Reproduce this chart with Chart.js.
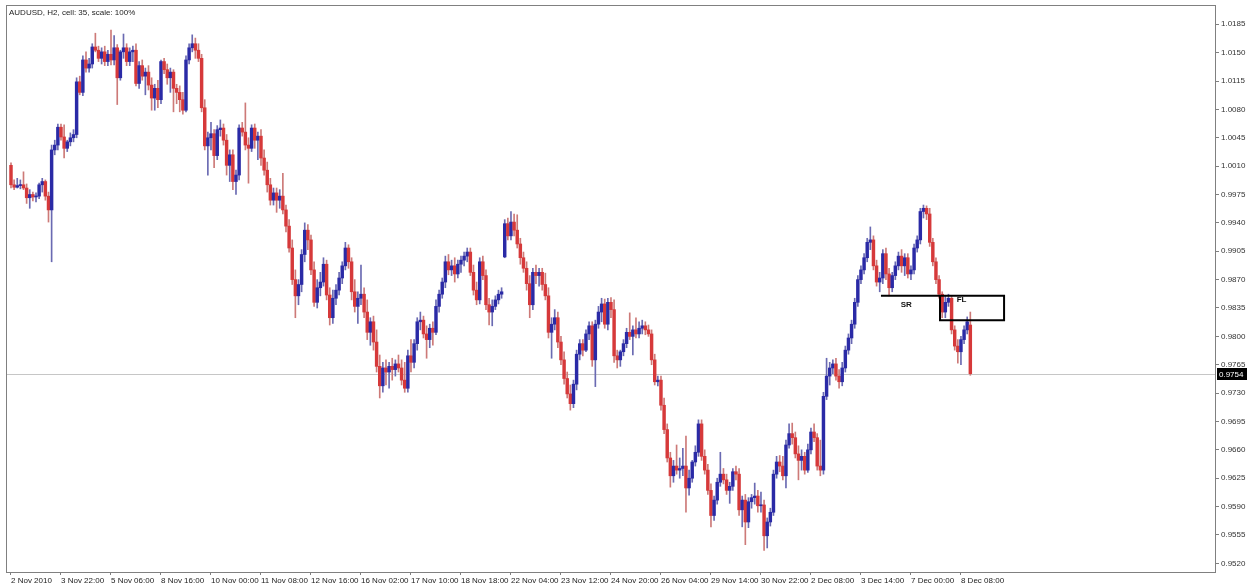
<!DOCTYPE html>
<html>
<head>
<meta charset="utf-8">
<title>AUDUSD H2</title>
<script src="https://cdn.jsdelivr.net/npm/chart.js@4.4.0/dist/chart.umd.min.js"></script>
<style>
  html, body { margin: 0; padding: 0; background: #fff; }
  #wrap { width: 1253px; height: 585px; position: relative; }
</style>
</head>
<body>
<div id="wrap"><canvas id="chart"></canvas></div>
<script>
// AUDUSD, H2 candles, 2 Nov - 8 Dec 2010
const dateTicks = ['2 Nov 2010', '3 Nov 22:00', '5 Nov 06:00', '8 Nov 16:00', '10 Nov 00:00',
    '11 Nov 08:00', '12 Nov 16:00', '16 Nov 02:00', '17 Nov 10:00', '18 Nov 18:00',
    '22 Nov 04:00', '23 Nov 12:00', '24 Nov 20:00', '26 Nov 04:00', '29 Nov 14:00',
    '30 Nov 22:00', '2 Dec 08:00', '3 Dec 14:00', '7 Dec 00:00', '8 Dec 08:00'];
const barsPerTick = 16;

const priceTicks = [1.0185, 1.0150, 1.0115, 1.0080, 1.0045, 1.0010, 0.9975, 0.9940, 0.9905, 0.9870,
    0.9835, 0.9800, 0.9765, 0.9730, 0.9695, 0.9660, 0.9625, 0.9590, 0.9555, 0.9520];

const opens = [
    1.0011, 0.9987, 0.9984, 0.9986, 0.9987, 0.9983, 0.9971, 0.9975,
    0.9972, 0.9973, 0.9987, 0.9991, 0.9973, 0.9956, 1.0030, 1.0036,
    1.0058, 1.0046, 1.0032, 1.0040, 1.0045, 1.0049, 1.0114, 1.0101,
    1.0141, 1.0131, 1.0136, 1.0157, 1.0153, 1.0143, 1.0151, 1.0139,
    1.0148, 1.0141, 1.0156, 1.0119, 1.0151, 1.0156, 1.0139, 1.0151,
    1.0153, 1.0112, 1.0134, 1.0121, 1.0126, 1.0110, 1.0094, 1.0106,
    1.0092, 1.0139, 1.0129, 1.0119, 1.0126, 1.0106, 1.0101, 1.0092,
    1.0079, 1.0141, 1.0156, 1.0161, 1.0153, 1.0143, 1.0082, 1.0035,
    1.0045, 1.0050, 1.0023, 1.0055, 1.0057, 1.0042, 1.0011, 1.0024,
    0.9991, 0.9999, 1.0057, 1.0052, 1.0036, 1.0032, 1.0057, 1.0042,
    1.0047, 1.0020, 1.0005, 0.9987, 0.9968, 0.9977, 0.9968, 0.9973,
    0.9956, 0.9936, 0.9909, 0.9870, 0.9850, 0.9864, 0.9901, 0.9931,
    0.9919, 0.9882, 0.9842, 0.9860, 0.9867, 0.9889, 0.9851, 0.9823,
    0.9847, 0.9857, 0.9872, 0.9887, 0.9909, 0.9892, 0.9855, 0.9837,
    0.9847, 0.9852, 0.9830, 0.9805, 0.9818, 0.9793, 0.9763, 0.9739,
    0.9761, 0.9756, 0.9763, 0.9759, 0.9766, 0.9761, 0.9746, 0.9736,
    0.9776, 0.9768, 0.9791, 0.9818, 0.9820, 0.9803, 0.9796, 0.9810,
    0.9805, 0.9837, 0.9852, 0.9867, 0.9892, 0.9882, 0.9887, 0.9877,
    0.9889, 0.9894, 0.9899, 0.9904, 0.9879, 0.9857, 0.9845, 0.9892,
    0.9875, 0.9839, 0.9830, 0.9837, 0.9845, 0.9852, 0.9898, 0.9939,
    0.9924, 0.9941, 0.9931, 0.9914, 0.9897, 0.9884, 0.9865, 0.9839,
    0.9879, 0.9875, 0.9879, 0.9864, 0.9850, 0.9805, 0.9815, 0.9823,
    0.9793, 0.9771, 0.9748, 0.9729, 0.9717, 0.9741, 0.9778, 0.9791,
    0.9783, 0.9803, 0.9813, 0.9771, 0.9815, 0.9830, 0.9840, 0.9815,
    0.9842, 0.9833, 0.9776, 0.9771, 0.9781, 0.9791, 0.9805, 0.9800,
    0.9808, 0.9803, 0.9810, 0.9813, 0.9808, 0.9803, 0.9771, 0.9744,
    0.9746, 0.9715, 0.9685, 0.9650, 0.9628, 0.9640, 0.9635, 0.9637,
    0.9640, 0.9613, 0.9625, 0.9645, 0.9657, 0.9692, 0.9652, 0.9635,
    0.9610, 0.9579, 0.9598, 0.9620, 0.9630, 0.9623, 0.9610, 0.9615,
    0.9633, 0.9630, 0.9586, 0.9598, 0.9571, 0.9596, 0.9601, 0.9603,
    0.9591, 0.9592, 0.9554, 0.9571, 0.9583, 0.9630, 0.9645, 0.9640,
    0.9628, 0.9666, 0.9680, 0.9675, 0.9655, 0.9647, 0.9652, 0.9635,
    0.9660, 0.9682, 0.9675, 0.9640, 0.9635, 0.9726, 0.9751, 0.9761,
    0.9766, 0.9751, 0.9744, 0.9761, 0.9783, 0.9798, 0.9815, 0.9842,
    0.9870, 0.9882, 0.9897, 0.9916, 0.9919, 0.9887, 0.9867, 0.9872,
    0.9902, 0.9877, 0.9860, 0.9875, 0.9887, 0.9899, 0.9887, 0.9897,
    0.9877, 0.9882, 0.9909, 0.9919, 0.9954, 0.9958, 0.9951, 0.9916,
    0.9892, 0.9870, 0.9852, 0.9830, 0.9842, 0.9847, 0.9808, 0.9788,
    0.9781, 0.9796, 0.9808, 0.9814
];

const highs = [
    1.0014, 0.9993, 0.9995, 0.9993, 1.0003, 0.9988, 0.9981, 0.9978,
    0.9977, 0.9989, 0.9995, 0.9993, 0.9978, 1.0036, 1.0042, 1.0062,
    1.0062, 1.0061, 1.0042, 1.0051, 1.0055, 1.0119, 1.0121, 1.0146,
    1.0151, 1.0143, 1.0161, 1.0174, 1.0158, 1.0156, 1.0158, 1.0153,
    1.0178, 1.0171, 1.0160, 1.0153, 1.0173, 1.0161, 1.0156, 1.0158,
    1.0161, 1.0139, 1.0141, 1.0131, 1.0134, 1.0119, 1.0111, 1.0116,
    1.0141, 1.0143, 1.0136, 1.0131, 1.0129, 1.0111, 1.0109, 1.0101,
    1.0146, 1.0161, 1.0172, 1.0168, 1.0161, 1.0148, 1.0092, 1.0052,
    1.0064, 1.0055, 1.0060, 1.0067, 1.0062, 1.0049, 1.0030, 1.0030,
    1.0005, 1.0061, 1.0064, 1.0088, 1.0045, 1.0061, 1.0062, 1.0052,
    1.0055, 1.0030, 1.0015, 0.9995, 0.9983, 0.9983, 0.9981, 1.0001,
    0.9962, 0.9944, 0.9919, 0.9882, 0.9870, 0.9907, 0.9940, 0.9938,
    0.9925, 0.9892, 0.9870, 0.9879, 0.9897, 0.9894, 0.9860, 0.9857,
    0.9864, 0.9879, 0.9892, 0.9916, 0.9913, 0.9897, 0.9870, 0.9855,
    0.9888, 0.9860, 0.9845, 0.9823, 0.9825, 0.9808, 0.9777, 0.9768,
    0.9771, 0.9768, 0.9773, 0.9771, 0.9777, 0.9771, 0.9768, 0.9783,
    0.9796, 0.9796, 0.9823, 0.9830, 0.9825, 0.9813, 0.9815, 0.9818,
    0.9845, 0.9857, 0.9872, 0.9899, 0.9901, 0.9894, 0.9897, 0.9894,
    0.9899, 0.9904, 0.9909, 0.9909, 0.9888, 0.9867, 0.9897, 0.9899,
    0.9882, 0.9847, 0.9845, 0.9850, 0.9857, 0.9860, 0.9944, 0.9946,
    0.9954, 0.9951, 0.9950, 0.9921, 0.9904, 0.9892, 0.9875, 0.9884,
    0.9888, 0.9884, 0.9884, 0.9878, 0.9860, 0.9823, 0.9833, 0.9830,
    0.9800, 0.9781, 0.9756, 0.9740, 0.9746, 0.9783, 0.9796, 0.9796,
    0.9808, 0.9818, 0.9818, 0.9820, 0.9837, 0.9847, 0.9846, 0.9847,
    0.9848, 0.9845, 0.9783, 0.9783, 0.9796, 0.9810, 0.9829, 0.9813,
    0.9823, 0.9818, 0.9820, 0.9818, 0.9814, 0.9808, 0.9778, 0.9751,
    0.9751, 0.9724, 0.9692, 0.9657, 0.9647, 0.9666, 0.9650, 0.9662,
    0.9677, 0.9635, 0.9647, 0.9665, 0.9697, 0.9697, 0.9660, 0.9642,
    0.9618, 0.9603, 0.9625, 0.9657, 0.9637, 0.9630, 0.9620, 0.9637,
    0.9640, 0.9637, 0.9603, 0.9605, 0.9601, 0.9605, 0.9619, 0.9610,
    0.9608, 0.9598, 0.9576, 0.9588, 0.9635, 0.9652, 0.9653, 0.9652,
    0.9672, 0.9692, 0.9693, 0.9682, 0.9665, 0.9660, 0.9657, 0.9667,
    0.9687, 0.9692, 0.9680, 0.9672, 0.9731, 0.9773, 0.9768, 0.9771,
    0.9773, 0.9759, 0.9768, 0.9788, 0.9803, 0.9820, 0.9847, 0.9875,
    0.9887, 0.9902, 0.9921, 0.9935, 0.9924, 0.9894, 0.9879, 0.9907,
    0.9909, 0.9884, 0.9879, 0.9892, 0.9904, 0.9907, 0.9902, 0.9902,
    0.9887, 0.9914, 0.9924, 0.9958, 0.9962, 0.9961, 0.9958, 0.9921,
    0.9897, 0.9875, 0.9855, 0.9850, 0.9852, 0.9850, 0.9813, 0.9796,
    0.9800, 0.9813, 0.9824, 0.9830
];

const lows = [
    0.9983, 0.9981, 0.9983, 0.9982, 0.9981, 0.9964, 0.9958, 0.9967,
    0.9966, 0.9970, 0.9978, 0.9968, 0.9941, 0.9892, 1.0024, 1.0030,
    1.0042, 1.0020, 1.0028, 1.0035, 1.0040, 1.0045, 1.0098, 1.0097,
    1.0126, 1.0126, 1.0131, 1.0151, 1.0139, 1.0136, 1.0134, 1.0134,
    1.0135, 1.0135, 1.0086, 1.0116, 1.0143, 1.0134, 1.0134, 1.0139,
    1.0109, 1.0106, 1.0116, 1.0098, 1.0104, 1.0079, 1.0079, 1.0082,
    1.0087, 1.0124, 1.0111, 1.0101, 1.0077, 1.0087, 1.0077, 1.0074,
    1.0077, 1.0136, 1.0151, 1.0143, 1.0139, 1.0077, 1.0030, 0.9999,
    1.0030, 1.0008, 1.0018, 1.0047, 1.0036, 0.9999, 0.9991, 0.9981,
    0.9975, 0.9993, 1.0047, 1.0030, 0.9989, 1.0028, 1.0032, 1.0018,
    1.0011, 0.9999, 0.9978, 0.9962, 0.9962, 0.9953, 0.9958, 0.9951,
    0.9929, 0.9904, 0.9864, 0.9823, 0.9839, 0.9855, 0.9892, 0.9907,
    0.9876, 0.9837, 0.9835, 0.9850, 0.9862, 0.9845, 0.9814, 0.9816,
    0.9839, 0.9851, 0.9865, 0.9882, 0.9884, 0.9845, 0.9830, 0.9816,
    0.9839, 0.9823, 0.9796, 0.9789, 0.9783, 0.9756, 0.9724, 0.9731,
    0.9740, 0.9736, 0.9746, 0.9751, 0.9756, 0.9740, 0.9731, 0.9731,
    0.9756, 0.9761, 0.9783, 0.9808, 0.9798, 0.9773, 0.9786, 0.9789,
    0.9802, 0.9830, 0.9847, 0.9860, 0.9876, 0.9875, 0.9867, 0.9872,
    0.9879, 0.9887, 0.9892, 0.9875, 0.9851, 0.9839, 0.9840, 0.9870,
    0.9833, 0.9814, 0.9813, 0.9833, 0.9840, 0.9847, 0.9897, 0.9919,
    0.9919, 0.9924, 0.9909, 0.9889, 0.9879, 0.9857, 0.9823, 0.9833,
    0.9865, 0.9862, 0.9857, 0.9845, 0.9798, 0.9773, 0.9808, 0.9786,
    0.9765, 0.9741, 0.9724, 0.9709, 0.9712, 0.9734, 0.9771, 0.9776,
    0.9781, 0.9796, 0.9763, 0.9738, 0.9810, 0.9818, 0.9810, 0.9808,
    0.9823, 0.9768, 0.9761, 0.9763, 0.9776, 0.9786, 0.9796, 0.9777,
    0.9798, 0.9798, 0.9803, 0.9802, 0.9800, 0.9765, 0.9740, 0.9739,
    0.9709, 0.9680, 0.9645, 0.9614, 0.9620, 0.9630, 0.9625, 0.9628,
    0.9583, 0.9604, 0.9620, 0.9640, 0.9652, 0.9647, 0.9630, 0.9605,
    0.9565, 0.9573, 0.9593, 0.9615, 0.9618, 0.9605, 0.9594, 0.9610,
    0.9623, 0.9579, 0.9565, 0.9543, 0.9564, 0.9588, 0.9593, 0.9583,
    0.9583, 0.9536, 0.9539, 0.9566, 0.9579, 0.9625, 0.9633, 0.9623,
    0.9613, 0.9662, 0.9667, 0.9650, 0.9623, 0.9635, 0.9630, 0.9632,
    0.9655, 0.9670, 0.9635, 0.9628, 0.9630, 0.9722, 0.9740, 0.9754,
    0.9746, 0.9736, 0.9739, 0.9756, 0.9778, 0.9791, 0.9810, 0.9837,
    0.9865, 0.9877, 0.9892, 0.9907, 0.9882, 0.9862, 0.9855, 0.9865,
    0.9870, 0.9850, 0.9855, 0.9870, 0.9882, 0.9879, 0.9875, 0.9872,
    0.9870, 0.9877, 0.9904, 0.9914, 0.9946, 0.9944, 0.9911, 0.9887,
    0.9865, 0.9847, 0.9823, 0.9823, 0.9837, 0.9803, 0.9783, 0.9767,
    0.9765, 0.9791, 0.9803, 0.9752
];

const closes = [
    0.9987, 0.9984, 0.9986, 0.9987, 0.9983, 0.9971, 0.9975, 0.9972,
    0.9973, 0.9987, 0.9991, 0.9973, 0.9956, 1.0030, 1.0036, 1.0058,
    1.0046, 1.0032, 1.0040, 1.0045, 1.0049, 1.0114, 1.0101, 1.0141,
    1.0131, 1.0136, 1.0157, 1.0153, 1.0143, 1.0151, 1.0139, 1.0148,
    1.0141, 1.0156, 1.0119, 1.0151, 1.0156, 1.0139, 1.0151, 1.0153,
    1.0112, 1.0134, 1.0121, 1.0126, 1.0110, 1.0094, 1.0106, 1.0092,
    1.0139, 1.0129, 1.0119, 1.0126, 1.0106, 1.0101, 1.0092, 1.0079,
    1.0141, 1.0156, 1.0161, 1.0153, 1.0143, 1.0082, 1.0035, 1.0045,
    1.0050, 1.0023, 1.0055, 1.0057, 1.0042, 1.0011, 1.0024, 0.9991,
    0.9999, 1.0057, 1.0052, 1.0036, 1.0032, 1.0057, 1.0042, 1.0047,
    1.0020, 1.0005, 0.9987, 0.9968, 0.9977, 0.9968, 0.9973, 0.9956,
    0.9936, 0.9909, 0.9870, 0.9850, 0.9864, 0.9901, 0.9931, 0.9919,
    0.9882, 0.9842, 0.9860, 0.9867, 0.9889, 0.9851, 0.9823, 0.9847,
    0.9857, 0.9872, 0.9887, 0.9909, 0.9892, 0.9855, 0.9837, 0.9847,
    0.9852, 0.9830, 0.9805, 0.9818, 0.9793, 0.9763, 0.9739, 0.9761,
    0.9756, 0.9763, 0.9759, 0.9766, 0.9761, 0.9746, 0.9736, 0.9776,
    0.9768, 0.9791, 0.9818, 0.9820, 0.9803, 0.9796, 0.9810, 0.9805,
    0.9837, 0.9852, 0.9867, 0.9892, 0.9882, 0.9887, 0.9877, 0.9889,
    0.9894, 0.9899, 0.9904, 0.9879, 0.9857, 0.9845, 0.9892, 0.9875,
    0.9839, 0.9830, 0.9837, 0.9845, 0.9852, 0.9855, 0.9939, 0.9924,
    0.9941, 0.9931, 0.9914, 0.9897, 0.9884, 0.9865, 0.9839, 0.9879,
    0.9875, 0.9879, 0.9864, 0.9850, 0.9805, 0.9815, 0.9823, 0.9793,
    0.9771, 0.9748, 0.9729, 0.9717, 0.9741, 0.9778, 0.9791, 0.9783,
    0.9803, 0.9813, 0.9771, 0.9815, 0.9830, 0.9840, 0.9815, 0.9842,
    0.9833, 0.9776, 0.9771, 0.9781, 0.9791, 0.9805, 0.9800, 0.9808,
    0.9803, 0.9810, 0.9813, 0.9808, 0.9803, 0.9771, 0.9744, 0.9746,
    0.9715, 0.9685, 0.9650, 0.9628, 0.9640, 0.9635, 0.9637, 0.9640,
    0.9613, 0.9625, 0.9645, 0.9657, 0.9692, 0.9652, 0.9635, 0.9610,
    0.9579, 0.9598, 0.9620, 0.9630, 0.9623, 0.9610, 0.9615, 0.9633,
    0.9630, 0.9586, 0.9598, 0.9571, 0.9596, 0.9601, 0.9603, 0.9591,
    0.9592, 0.9554, 0.9571, 0.9583, 0.9630, 0.9645, 0.9640, 0.9628,
    0.9666, 0.9680, 0.9675, 0.9655, 0.9647, 0.9652, 0.9635, 0.9660,
    0.9682, 0.9675, 0.9640, 0.9635, 0.9726, 0.9751, 0.9761, 0.9766,
    0.9751, 0.9744, 0.9761, 0.9783, 0.9798, 0.9815, 0.9842, 0.9870,
    0.9882, 0.9897, 0.9916, 0.9919, 0.9887, 0.9867, 0.9872, 0.9902,
    0.9877, 0.9860, 0.9875, 0.9887, 0.9899, 0.9887, 0.9897, 0.9877,
    0.9882, 0.9909, 0.9919, 0.9954, 0.9958, 0.9951, 0.9916, 0.9892,
    0.9870, 0.9852, 0.9830, 0.9842, 0.9847, 0.9808, 0.9788, 0.9781,
    0.9796, 0.9808, 0.9818, 0.9754
];

// hand drawn objects on the chart (bar index / price)
const srLevel = 0.9850;
const srFrom = 278.4;
const flBox = { from: 297.3, to: 317.8, top: 0.9850, bottom: 0.9820 };
const srText = { x: 286.5, y: 0.9839 };
const flText = { x: 304.2, y: 0.9845 };

const FONT = "'Liberation Sans', Arial, sans-serif";
const upBody = '#2a2aa6', downBody = '#d6393a';
const upWick = '#6a6ab2', downWick = '#cd7a78';

const idx = closes.map((_, i) => i);
const isUp = idx.map(i => closes[i] >= opens[i]);

const overlay = {
    id: 'overlay',
    beforeDatasetsDraw(chart) {
        const { ctx, chartArea: a, scales: { y } } = chart;
        ctx.save();
        ctx.strokeStyle = '#808080';
        ctx.lineWidth = 1;
        ctx.strokeRect(a.left + 0.5, a.top + 0.5, a.right - a.left, a.bottom - a.top);
        // bid line
        const by = Math.round(y.getPixelForValue(closes[closes.length - 1])) + 0.5;
        ctx.strokeStyle = '#c6c6c6';
        ctx.beginPath();
        ctx.moveTo(a.left + 1, by);
        ctx.lineTo(a.right, by);
        ctx.stroke();
        ctx.restore();
    },
    afterDraw(chart) {
        const { ctx, chartArea: a, scales: { x, y } } = chart;
        ctx.save();
        ctx.font = '8px ' + FONT;
        ctx.fillStyle = '#222';
        ctx.textBaseline = 'middle';
        ctx.textAlign = 'left';
        ctx.fillText('AUDUSD, H2, cell: 35, scale: 100%', a.left + 3, a.top + 8);

        ctx.font = 'bold 8px ' + FONT;
        ctx.fillStyle = '#111';
        ctx.textAlign = 'center';
        ctx.fillText('SR', x.getPixelForValue(srText.x), y.getPixelForValue(srText.y));
        ctx.fillText('FL', x.getPixelForValue(flText.x), y.getPixelForValue(flText.y));

        // last price marker on the axis
        const last = closes[closes.length - 1];
        const by = Math.round(y.getPixelForValue(last));
        ctx.fillStyle = '#000';
        ctx.fillRect(y.left + 2, by - 6, 30, 12);
        ctx.fillStyle = '#fff';
        ctx.font = '8px ' + FONT;
        ctx.textAlign = 'left';
        ctx.fillText(last.toFixed(4), y.left + 4, by + 0.5);
        ctx.restore();
    }
};

new Chart(document.getElementById('chart'), {
    type: 'bar',
    data: {
        datasets: [{
            type: 'line',
            label: 'FL box',
            order: 0,
            data: [
                { x: flBox.from, y: flBox.top }, { x: flBox.to, y: flBox.top },
                { x: flBox.to, y: flBox.bottom }, { x: flBox.from, y: flBox.bottom },
                { x: flBox.from, y: flBox.top }
            ],
            borderColor: '#000',
            borderWidth: 2,
            pointRadius: 0,
            tension: 0
        }, {
            type: 'line',
            label: 'SR',
            order: 1,
            data: [{ x: srFrom, y: srLevel }, { x: flBox.from, y: srLevel }],
            borderColor: '#000',
            borderWidth: 2,
            pointRadius: 0
        }, {
            label: 'bodies',
            order: 2,
            data: idx.map(i => ({ x: i, y: [opens[i], closes[i]] })),
            backgroundColor: idx.map(i => isUp[i] ? upBody : downBody),
            barThickness: 2.8,
            minBarLength: 1,
            grouped: false,
            borderWidth: 0
        }, {
            label: 'wicks',
            order: 3,
            data: idx.map(i => ({ x: i, y: [lows[i], highs[i]] })),
            backgroundColor: idx.map(i => isUp[i] ? upWick : downWick),
            barThickness: 1,
            grouped: false,
            borderWidth: 0
        }]
    },
    options: {
        responsive: true,
        maintainAspectRatio: false,
        animation: false,
        devicePixelRatio: 1,
        layout: { padding: { left: 6, top: 5, right: 0, bottom: 0 } },
        plugins: { legend: { display: false }, tooltip: { enabled: false } },
        scales: {
            x: {
                type: 'linear',
                position: 'bottom',
                min: -1.6,
                max: 385.3,
                offset: false,
                grid: { drawOnChartArea: false, drawTicks: true, tickLength: 3, color: '#808080', offset: false },
                border: { display: false },
                afterBuildTicks: axis => { axis.ticks = dateTicks.map((_, k) => ({ value: k * barsPerTick })); },
                afterFit: s => { s.height = 13; s.paddingLeft = 0; s.paddingRight = 0; },
                ticks: {
                    autoSkip: false,
                    maxRotation: 0,
                    align: 'start',
                    padding: 1,
                    color: '#222',
                    font: { family: FONT, size: 8 },
                    callback: (v, k) => dateTicks[k]
                }
            },
            y: {
                type: 'linear',
                position: 'right',
                min: 0.95093,
                max: 1.02088,
                grid: { drawOnChartArea: false, drawTicks: true, tickLength: 4, color: '#808080' },
                border: { display: false },
                afterBuildTicks: axis => { axis.ticks = priceTicks.map(v => ({ value: v })); },
                afterFit: s => { s.width = 38; s.paddingTop = 0; s.paddingBottom = 0; },
                ticks: {
                    padding: 2,
                    color: '#333',
                    font: { family: FONT, size: 8 },
                    callback: v => v.toFixed(4)
                }
            }
        }
    },
    plugins: [overlay]
});
</script>
</body>
</html>
